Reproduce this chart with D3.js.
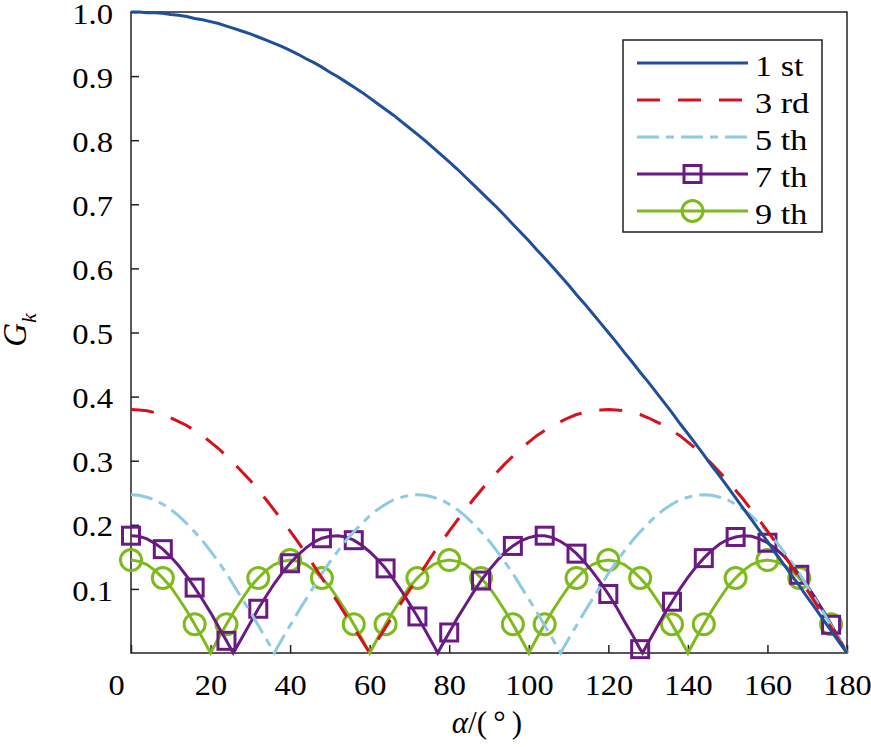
<!DOCTYPE html>
<html><head><meta charset="utf-8">
<script src="https://cdn.jsdelivr.net/npm/d3@7"></script>
<style>
html,body{margin:0;padding:0;background:#fff;}
</style></head>
<body><svg id="chart" width="871" height="747"></svg>
<script>
// α grid (degrees)
const alpha = [0,2,4,6,8,10,12,14,16,18,20,22,24,26,28,30,32,34,36,38,40,42,44,46,48,50,52,54,56,58,
60,62,64,66,68,70,72,74,76,78,80,82,84,86,88,90,92,94,96,98,100,102,104,106,108,110,112,114,116,118,
120,122,124,126,128,130,132,134,136,138,140,142,144,146,148,150,152,154,156,158,160,162,164,166,168,170,172,174,176,178,180];
// α grid of the 7th, with its three zeros
const alpha7 = [0,2,4,6,8,10,12,14,16,18,20,22,24,25.7,26,28,30,32,34,36,38,40,42,44,46,48,50,52,54,56,58,
60,62,64,66,68,70,72,74,76,77.1,78,80,82,84,86,88,90,92,94,96,98,100,102,104,106,108,110,112,114,116,118,
120,122,124,126,128,128.6,130,132,134,136,138,140,142,144,146,148,150,152,154,156,158,160,162,164,166,168,170,172,174,176,178,180];

const g1 = [1.000,1.000,0.999,0.999,0.998,0.996,0.995,0.993,0.990,0.988,
0.985,0.982,0.978,0.974,0.970,0.966,0.961,0.956,0.951,0.946,
0.940,0.934,0.927,0.921,0.914,0.906,0.899,0.891,0.883,0.875,
0.866,0.857,0.848,0.839,0.829,0.819,0.809,0.799,0.788,0.777,
0.766,0.755,0.743,0.731,0.719,0.707,0.695,0.682,0.669,0.656,
0.643,0.629,0.616,0.602,0.588,0.574,0.559,0.545,0.530,0.515,
0.500,0.485,0.469,0.454,0.438,0.423,0.407,0.391,0.375,0.358,
0.342,0.326,0.309,0.292,0.276,0.259,0.242,0.225,0.208,0.191,
0.174,0.156,0.139,0.122,0.105,0.087,0.070,0.052,0.035,0.017,0.000];

const g3 = [0.380,0.379,0.378,0.375,0.372,0.367,0.361,0.355,0.347,0.339,0.329,0.319,0.307,0.295,0.282,0.269,0.254,0.239,0.223,0.207,0.190,0.173,0.155,0.136,0.117,0.098,0.079,0.059,0.040,0.020,0.000,
0.020,0.040,0.059,0.079,0.098,0.117,0.136,0.155,0.173,0.190,0.207,0.223,0.239,0.254,0.269,0.282,0.295,0.307,0.319,0.329,0.339,0.347,0.355,0.361,0.367,0.372,0.375,0.378,0.379,0.380,
0.379,0.378,0.375,0.372,0.367,0.361,0.355,0.347,0.339,0.329,0.319,0.307,0.295,0.282,0.269,0.254,0.239,0.223,0.207,0.190,0.173,0.155,0.136,0.117,0.098,0.079,0.059,0.040,0.020,0.000];

const g5 = [0.247,0.246,0.243,0.239,0.232,0.224,0.214,0.202,0.189,0.175,0.159,0.142,0.124,0.104,0.084,0.064,0.043,0.022,0.000,
0.022,0.043,0.064,0.084,0.104,0.124,0.142,0.159,0.175,0.189,0.202,0.214,0.224,0.232,0.239,0.243,0.246,0.247,
0.246,0.243,0.239,0.232,0.224,0.214,0.202,0.189,0.175,0.159,0.142,0.124,0.104,0.084,0.064,0.043,0.022,0.000,
0.022,0.043,0.064,0.084,0.104,0.124,0.142,0.159,0.175,0.189,0.202,0.214,0.224,0.232,0.239,0.243,0.246,0.247,
0.246,0.243,0.239,0.232,0.224,0.214,0.202,0.189,0.175,0.159,0.142,0.124,0.104,0.084,0.064,0.043,0.022,0.000];

const g7 = [0.183,0.182,0.178,0.171,0.162,0.150,0.136,0.120,0.102,0.083,
0.063,0.041,0.019,0.000,0.003,0.025,0.047,0.069,0.089,0.108,0.125,
0.140,0.153,0.164,0.173,0.179,0.182,0.183,0.181,0.176,0.168,
0.158,0.146,0.132,0.115,0.097,0.077,0.057,0.035,0.013,0.000,0.010,
0.032,0.054,0.074,0.094,0.113,0.129,0.144,0.157,0.167,0.175,
0.180,0.183,0.183,0.180,0.174,0.166,0.155,0.142,0.127,0.110,
0.092,0.072,0.050,0.029,0.006,0.000,0.016,0.038,0.060,0.080,0.100,
0.118,0.134,0.148,0.160,0.170,0.177,0.181,0.183,0.182,0.178,
0.172,0.163,0.152,0.138,0.122,0.105,0.086,0.066,0.044,0.022,0.000];

const g9 = [0.145,0.143,0.138,0.129,0.117,0.103,0.085,0.066,0.045,0.023,0.000,
0.023,0.045,0.066,0.085,0.103,0.117,0.129,0.138,0.143,0.145,
0.143,0.138,0.129,0.117,0.103,0.085,0.066,0.045,0.023,0.000,
0.023,0.045,0.066,0.085,0.103,0.117,0.129,0.138,0.143,0.145,
0.143,0.138,0.129,0.117,0.103,0.085,0.066,0.045,0.023,0.000,
0.023,0.045,0.066,0.085,0.103,0.117,0.129,0.138,0.143,0.145,
0.143,0.138,0.129,0.117,0.103,0.085,0.066,0.045,0.023,0.000,
0.023,0.045,0.066,0.085,0.103,0.117,0.129,0.138,0.143,0.145,
0.143,0.138,0.129,0.117,0.103,0.085,0.066,0.045,0.023,0.000];

const seriesNames = ["1 st","3 rd","5 th","7 th","9 th"];
const xTicks = [0,20,40,60,80,100,120,140,160,180];
const yTicks = [0.1,0.2,0.3,0.4,0.5,0.6,0.7,0.8,0.9,1.0];
const markerStep = 8;

const FONT = "'Liberation Serif', 'Times New Roman', serif";

const styles = [
  {color:"#1f4e9a", dash:null, marker:null},
  {color:"#d4111c", dash:"23,18", marker:null},
  {color:"#8ecae0", dash:"22,7,8,7", marker:null},
  {color:"#6a1b82", dash:null, marker:"square"},
  {color:"#7fba1c", dash:null, marker:"circle"}
];
const values = [g1,g3,g5,g7,g9];
const xs = [alpha,alpha,alpha,alpha7,alpha];

const svg = d3.select("#chart");
const x = d3.scaleLinear().domain([0,180]).range([131,847]);
const y = d3.scaleLinear().domain([0,1]).range([653,12]);

// frame
svg.append("rect").attr("x",x(0)).attr("y",y(1)).attr("width",x(180)-x(0)).attr("height",y(0)-y(1))
  .attr("fill","none").attr("stroke","#222").attr("stroke-width",1.5);

// axes
const ax = svg.append("g").attr("transform",`translate(0,${y(0)})`)
  .call(d3.axisBottom(x).tickValues(xTicks).tickSize(-8).tickPadding(21).tickFormat(d3.format("d")));
const ay = svg.append("g").attr("transform",`translate(${x(0)},0)`)
  .call(d3.axisLeft(y).tickValues(yTicks).tickSize(-8).tickPadding(18).tickFormat(d3.format(".1f")));
[ax,ay].forEach(g=>{
  g.attr("font-family",FONT).attr("font-size",30);
  g.select(".domain").remove();
  g.selectAll(".tick line").attr("stroke","#222").attr("stroke-width",1.5);
  g.selectAll(".tick text").attr("fill","#000").style("font-family",FONT).style("font-size","30px");
});
// slightly wide glyphs, as in the reference
ay.selectAll(".tick text").attr("x",0).attr("dy","0.37em").attr("transform","translate(-18,0) scale(1.09,1)");
ax.selectAll(".tick text").each(function(d){
  const t = d3.select(this);
  const yy = +t.attr("y");
  t.attr("y",0).attr("transform",`translate(${d===0?-15:0},${yy}) scale(1.08,1)`);
});

// series, drawn with the 1st on top
const plot = svg.append("g");
for (let s = values.length-1; s>=0; s--) {
  const st = styles[s];
  const ax_ = xs[s];
  const line = d3.line().x((d,i)=>x(ax_[i])).y(d=>y(d));
  const g = plot.append("g");
  g.append("path").attr("d", line(values[s])).attr("fill","none")
    .attr("stroke", st.color).attr("stroke-width",3)
    .attr("stroke-dasharray", st.dash);
  if (st.marker) {
    const pts = ax_.map((a,i)=>({a, v:values[s][i]})).filter(p=>p.a % markerStep === 0 && p.a < 180);
    if (st.marker==="square") {
      g.selectAll("rect").data(pts).join("rect")
        .attr("x",p=>x(p.a)-8.5).attr("y",p=>y(p.v)-8.5).attr("width",17).attr("height",17)
        .attr("fill","none").attr("stroke",st.color).attr("stroke-width",3);
    } else {
      g.selectAll("circle").data(pts).join("circle")
        .attr("cx",p=>x(p.a)).attr("cy",p=>y(p.v)).attr("r",10.5)
        .attr("fill","none").attr("stroke",st.color).attr("stroke-width",3);
    }
  }
}

// legend
const lg = svg.append("g");
lg.append("rect").attr("x",623).attr("y",40).attr("width",199).attr("height",192)
  .attr("fill","#fff").attr("stroke","#222").attr("stroke-width",1.5);
seriesNames.forEach((name,i)=>{
  const st = styles[i];
  const ry = 63 + i*37;
  lg.append("line").attr("x1",637).attr("x2",748).attr("y1",ry).attr("y2",ry)
    .attr("stroke",st.color).attr("stroke-width",3).attr("stroke-dasharray",st.dash);
  if (st.marker==="square") {
    lg.append("rect").attr("x",692.5-8.5).attr("y",ry-8.5).attr("width",17).attr("height",17)
      .attr("fill","none").attr("stroke",st.color).attr("stroke-width",3);
  } else if (st.marker==="circle") {
    lg.append("circle").attr("cx",692.5).attr("cy",ry).attr("r",10.5)
      .attr("fill","none").attr("stroke",st.color).attr("stroke-width",3);
  }
  lg.append("text").attr("transform",`translate(755,${ry+13}) scale(1.14,1)`)
    .style("font-family",FONT).style("font-size","30px").attr("fill","#000").text(name);
});

// axis titles
const yt = svg.append("text").attr("transform","translate(26,330) rotate(-90)")
  .attr("text-anchor","middle").style("font-family",FONT).style("font-size","33px").attr("fill","#000");
yt.append("tspan").style("font-style","italic").text("G");
yt.append("tspan").style("font-style","italic").style("font-size","22px").attr("dy",10).text("k");

const xt = svg.append("text").attr("x",487).attr("y",733).attr("text-anchor","middle")
  .style("font-family",FONT).style("font-size","31px").attr("fill","#000");
xt.append("tspan").style("font-style","italic").text("α");
xt.append("tspan").text("/(\u2009°\u2009)");
</script></body></html>
